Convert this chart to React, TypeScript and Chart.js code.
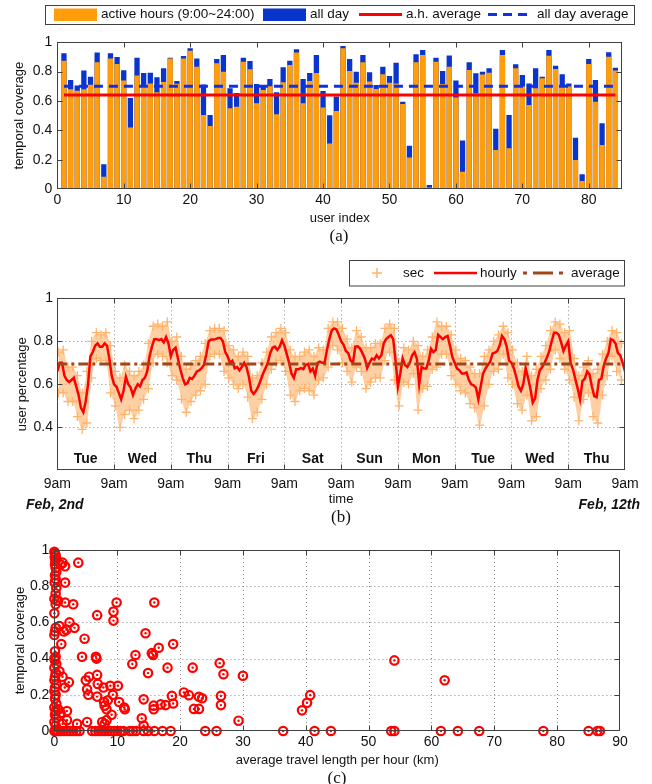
import { useEffect, useRef } from 'react';
import { Chart, registerables } from 'chart.js';
import type { ChartConfiguration, Plugin } from 'chart.js';

Chart.register(...registerables);

const FONT = '"Liberation Sans", Arial, Helvetica, sans-serif';
const SERIF = '"Liberation Serif", "Times New Roman", serif';
const INK = '#111111';
const AXIS = '#404040';

Chart.defaults.font.family = FONT;
Chart.defaults.color = INK;

// ---------- (a) temporal coverage per user ----------
const activeHours = [
  0.875, 0.68, 0.67, 0.68, 0.71, 0.864, 0.084, 0.89, 0.852, 0.74,
  0.42, 0.773, 0.70, 0.72, 0.66, 0.73, 0.89, 0.718, 0.89, 0.943,
  0.834, 0.505, 0.43, 0.857, 0.80, 0.55, 0.56, 0.868, 0.816, 0.584,
  0.675, 0.70, 0.51, 0.727, 0.845, 0.93, 0.584, 0.736, 0.79, 0.555,
  0.311, 0.532, 0.96, 0.805, 0.725, 0.864, 0.732, 0.682, 0.782, 0.725,
  0.72, 0.58, 0.214, 0.864, 0.914, 0.01, 0.868, 0.716, 0.834, 0.623,
  0.118, 0.811, 0.652, 0.78, 0.793, 0.266, 0.914, 0.277, 0.823, 0.698,
  0.573, 0.686, 0.755, 0.909, 0.818, 0.705, 0.698, 0.198, 0.055, 0.852,
  0.595, 0.30, 0.902, 0.807,
];
const allDay = [
  0.925, 0.743, 0.705, 0.807, 0.766, 0.93, 0.168, 0.925, 0.90, 0.81,
  0.62, 0.895, 0.79, 0.793, 0.761, 0.823, 0.895, 0.736, 0.907, 0.96,
  0.89, 0.713, 0.505, 0.886, 0.914, 0.686, 0.655, 0.895, 0.873, 0.716,
  0.70, 0.75, 0.66, 0.83, 0.875, 0.952, 0.75, 0.79, 0.914, 0.668,
  0.502, 0.63, 0.975, 0.886, 0.80, 0.914, 0.795, 0.709, 0.834, 0.77,
  0.861, 0.595, 0.295, 0.918, 0.948, 0.027, 0.895, 0.805, 0.91, 0.739,
  0.33, 0.864, 0.789, 0.80, 0.823, 0.41, 0.948, 0.505, 0.85, 0.777,
  0.72, 0.823, 0.766, 0.948, 0.841, 0.782, 0.72, 0.35, 0.10, 0.886,
  0.743, 0.448, 0.932, 0.827,
];
const userIndex = activeHours.map((_, i) => i + 1);
const activeAverage = 0.64;
const allDayAverage = 0.70;
const userTicks = [0, 10, 20, 30, 40, 50, 60, 70, 80];
const coverageTicks = [0, 0.2, 0.4, 0.6, 0.8, 1];

// ---------- (b) share of users online over ten days ----------
const hourlyUsers = [
  // Tue
  0.66, 0.70, 0.70, 0.64, 0.62, 0.61, 0.62, 0.63, 0.59, 0.55, 0.49, 0.47, 0.52, 0.60, 0.73, 0.75, 0.78, 0.79, 0.775, 0.775, 0.79, 0.78, 0.72, 0.64,
  // Wed
  0.60, 0.59, 0.56, 0.53, 0.57, 0.635, 0.60, 0.585, 0.55, 0.58, 0.60, 0.59, 0.62, 0.63, 0.66, 0.73, 0.775, 0.81, 0.81, 0.805, 0.81, 0.795, 0.82, 0.79,
  // Thu
  0.73, 0.76, 0.77, 0.72, 0.67, 0.63, 0.60, 0.605, 0.63, 0.625, 0.64, 0.66, 0.665, 0.675, 0.69, 0.74, 0.80, 0.808, 0.808, 0.81, 0.815, 0.815, 0.80, 0.75,
  // Fri
  0.73, 0.70, 0.71, 0.675, 0.68, 0.665, 0.68, 0.70, 0.68, 0.635, 0.57, 0.555, 0.57, 0.59, 0.62, 0.65, 0.675, 0.70, 0.745, 0.77, 0.775, 0.76, 0.775, 0.805,
  // Sat
  0.78, 0.74, 0.70, 0.65, 0.63, 0.67, 0.67, 0.675, 0.67, 0.69, 0.695, 0.66, 0.673, 0.64, 0.70, 0.705, 0.70, 0.70, 0.76, 0.81, 0.85, 0.86, 0.855, 0.83,
  // Sun
  0.80, 0.785, 0.755, 0.745, 0.71, 0.70, 0.775, 0.777, 0.766, 0.745, 0.72, 0.675, 0.70, 0.72, 0.715, 0.735, 0.72, 0.735, 0.79, 0.81, 0.82, 0.828, 0.81, 0.71,
  // Mon
  0.59, 0.65, 0.72, 0.69, 0.68, 0.70, 0.735, 0.75, 0.72, 0.60, 0.68, 0.673, 0.673, 0.71, 0.765, 0.75, 0.76, 0.83, 0.82, 0.81, 0.82, 0.825, 0.78, 0.727,
  // Tue
  0.70, 0.673, 0.665, 0.65, 0.65, 0.655, 0.62, 0.60, 0.595, 0.585, 0.53, 0.59, 0.65, 0.673, 0.69, 0.705, 0.743, 0.747, 0.755, 0.78, 0.825, 0.81, 0.775, 0.71,
  // Wed
  0.70, 0.675, 0.635, 0.59, 0.57, 0.60, 0.675, 0.63, 0.58, 0.515, 0.535, 0.62, 0.665, 0.68, 0.70, 0.725, 0.755, 0.80, 0.84, 0.84, 0.83, 0.795, 0.755, 0.78,
  // Thu
  0.80, 0.70, 0.67, 0.625, 0.58, 0.53, 0.615, 0.626, 0.66, 0.645, 0.59, 0.545, 0.54, 0.62, 0.626, 0.685, 0.72, 0.745, 0.81, 0.805, 0.79, 0.745, 0.735, 0.70,
  0.66,
];
// per-second samples: upper and lower extent of each two-hour block
const secHigh = [
  0.75, 0.76, 0.68, 0.68, 0.64, 0.56, 0.66, 0.80, 0.84, 0.83, 0.84, 0.78,
  0.66, 0.63, 0.69, 0.66, 0.64, 0.66, 0.69, 0.79, 0.87, 0.88, 0.87, 0.89,
  0.80, 0.82, 0.73, 0.67, 0.69, 0.71, 0.73, 0.79, 0.85, 0.86, 0.86, 0.85,
  0.78, 0.76, 0.73, 0.75, 0.73, 0.63, 0.64, 0.70, 0.75, 0.82, 0.84, 0.86,
  0.84, 0.76, 0.73, 0.73, 0.75, 0.76, 0.73, 0.77, 0.76, 0.86, 0.89, 0.89,
  0.86, 0.81, 0.77, 0.85, 0.82, 0.77, 0.77, 0.79, 0.79, 0.86, 0.88, 0.86,
  0.70, 0.77, 0.76, 0.80, 0.78, 0.73, 0.76, 0.82, 0.89, 0.87, 0.87, 0.83,
  0.76, 0.72, 0.71, 0.68, 0.65, 0.65, 0.73, 0.76, 0.80, 0.83, 0.87, 0.84,
  0.76, 0.70, 0.66, 0.73, 0.64, 0.67, 0.73, 0.78, 0.85, 0.89, 0.88, 0.84,
  0.85, 0.72, 0.64, 0.68, 0.71, 0.65, 0.67, 0.74, 0.80, 0.85, 0.84, 0.79,
];
const secLow = [
  0.56, 0.56, 0.52, 0.52, 0.45, 0.39, 0.42, 0.63, 0.72, 0.71, 0.71, 0.56,
  0.50, 0.40, 0.46, 0.48, 0.44, 0.48, 0.53, 0.58, 0.70, 0.74, 0.73, 0.70,
  0.64, 0.62, 0.53, 0.47, 0.52, 0.55, 0.57, 0.60, 0.73, 0.74, 0.74, 0.66,
  0.63, 0.60, 0.58, 0.60, 0.54, 0.44, 0.47, 0.53, 0.60, 0.67, 0.70, 0.71,
  0.66, 0.55, 0.52, 0.57, 0.58, 0.57, 0.55, 0.62, 0.63, 0.68, 0.78, 0.76,
  0.70, 0.66, 0.61, 0.68, 0.66, 0.58, 0.61, 0.63, 0.63, 0.71, 0.75, 0.62,
  0.50, 0.61, 0.60, 0.65, 0.48, 0.58, 0.59, 0.67, 0.68, 0.74, 0.74, 0.64,
  0.60, 0.57, 0.56, 0.51, 0.49, 0.41, 0.50, 0.60, 0.66, 0.67, 0.74, 0.63,
  0.60, 0.51, 0.48, 0.55, 0.43, 0.45, 0.58, 0.62, 0.67, 0.76, 0.72, 0.67,
  0.62, 0.54, 0.43, 0.53, 0.56, 0.45, 0.42, 0.55, 0.64, 0.73, 0.66, 0.62,
];
const usersAverage = 0.695;
const dayNames = ['Tue', 'Wed', 'Thu', 'Fri', 'Sat', 'Sun', 'Mon', 'Tue', 'Wed', 'Thu'];
const hourTicks = [0, 24, 48, 72, 96, 120, 144, 168, 192, 216, 240];
const hourTickLabel = '9am';
const startDate = 'Feb, 2nd';
const endDate = 'Feb, 12th';
const percentTicks = [0.4, 0.6, 0.8, 1];

// ---------- (c) travel length vs coverage: [km per hour, coverage] ----------
const travelCoverage: [number, number][] = [
  [0, 0.99], [0.1, 0.98], [0.2, 0.97], [0.05, 0.96], [0.3, 0.95], [0.15, 0.94], [0.1, 0.92], [0.2, 0.90],
  [0.3, 0.88], [0.1, 0.86], [0.2, 0.84], [0.05, 0.82], [0.3, 0.79], [0.2, 0.76], [0, 0.73], [0.4, 0.72],
  [0.2, 0.70], [0, 0.65], [0.2, 0.57], [0.1, 0.55], [0, 0.53], [0.1, 0.44], [0.2, 0.41], [0, 0.40],
  [0.1, 0.39], [0.3, 0.37], [0, 0.35], [0.2, 0.32], [0.1, 0.30], [0, 0.28], [0.3, 0.26], [0.1, 0.24],
  [0, 0.22], [0.2, 0.20], [0.1, 0.18], [0.3, 0.15], [0, 0.13], [0.2, 0.11], [0.1, 0.09], [0.3, 0.07],
  [0, 0.05], [0.2, 0.03],
  [1.0, 0.92], [1.3, 0.93], [1.7, 0.91], [3.8, 0.93], [1.7, 0.82], [0.6, 0.72], [1.7, 0.71], [3.0, 0.70],
  [6.8, 0.64], [9.4, 0.66], [9.9, 0.71], [9.4, 0.61], [15.9, 0.71], [2.4, 0.60], [3.2, 0.57], [1.9, 0.56],
  [0.8, 0.58], [1.5, 0.55], [1.1, 0.48], [4.8, 0.51], [14.5, 0.54], [16.6, 0.46], [18.9, 0.48], [15.5, 0.43],
  [15.7, 0.42], [12.9, 0.42], [4.4, 0.41], [6.6, 0.41], [6.7, 0.40], [12.4, 0.37], [14.9, 0.32], [18.0, 0.35],
  [22.0, 0.35], [26.3, 0.375], [26.9, 0.314], [30.0, 0.305], [54.1, 0.39], [62.1, 0.28],
  [1.65, 0.24], [2.3, 0.27], [1.3, 0.30], [0.8, 0.33], [5.0, 0.28], [5.5, 0.30], [6.8, 0.31], [5.2, 0.23],
  [5.4, 0.20], [6.9, 0.26], [6.8, 0.19], [7.8, 0.24], [7.9, 0.16], [8.0, 0.14], [8.3, 0.12], [8.9, 0.25],
  [9.3, 0.20], [9.1, 0.09], [10.1, 0.25], [10.3, 0.16], [11.1, 0.13], [11.2, 0.12], [8.5, 0.17], [7.6, 0.05],
  [8.0, 0.04], [8.3, 0.06], [5.2, 0.05], [3.6, 0.04], [2.0, 0.11], [2.0, 0.06], [1.3, 0.04], [0.6, 0.12],
  [1.0, 0.10], [14.2, 0.175], [15.8, 0.14], [15.8, 0.12], [16.9, 0.147], [17.7, 0.143], [18.7, 0.194], [18.9, 0.152],
  [13.9, 0.07], [14.2, 0.03], [20.6, 0.213], [21.4, 0.198], [23.0, 0.189], [23.5, 0.181], [22.2, 0.122], [23.0, 0.122],
  [26.5, 0.194], [26.5, 0.143], [29.3, 0.057], [39.4, 0.114], [40.2, 0.156], [40.7, 0.198],
  [0, 0], [0.3, 0], [0.6, 0], [1, 0], [1.5, 0], [2, 0], [2.5, 0], [3, 0], [3.5, 0], [4, 0],
  [6, 0], [6.5, 0], [7, 0], [7.5, 0], [8, 0], [8.5, 0], [9, 0], [9.5, 0], [10, 0], [10.5, 0],
  [11, 0], [12, 0], [12.5, 0], [13, 0], [14.2, 0], [14.9, 0], [15.9, 0], [17.2, 0], [18.5, 0], [24, 0],
  [25.8, 0], [36.4, 0], [41.4, 0], [44, 0], [53.6, 0], [54.1, 0], [61.5, 0], [64.2, 0], [67.6, 0], [77.8, 0],
  [85, 0], [86.4, 0], [86.8, 0],
];
const kmTicks = [0, 10, 20, 30, 40, 50, 60, 70, 80, 90];

// ---------- colours ----------
const ORANGE = '#FF9D0A';
const BLUE = '#0A35CC';
const DASH_BLUE = '#1030E8';
const RED = '#FF0000';
const SEC = '#FFB46C';
const SEC_FILL = 'rgba(253, 178, 105, 0.62)';
const BROWN = '#A0461A';

// ---------- shared helpers ----------
type Swatch = {
  kind: 'rect' | 'line' | 'cross';
  color: string;
  x0: number;
  x1: number;
  width?: number;
  dash?: number[];
  label: string;
  textX: number;
};
type LegendSpec = {
  left: number; top: number; right: number; bottom: number;
  textY: number; patchTop: number; patchBottom: number;
  items: Swatch[];
};

function boxedLegend(spec: LegendSpec): Plugin {
  return {
    id: 'boxedLegend',
    afterDraw(chart) {
      const ctx = chart.ctx;
      ctx.save();
      ctx.fillStyle = '#ffffff';
      ctx.fillRect(spec.left, spec.top, spec.right - spec.left, spec.bottom - spec.top);
      ctx.strokeStyle = AXIS;
      ctx.lineWidth = 1;
      ctx.strokeRect(spec.left + 0.5, spec.top + 0.5, spec.right - spec.left, spec.bottom - spec.top);
      for (const it of spec.items) {
        if (it.kind === 'rect') {
          ctx.fillStyle = it.color;
          ctx.fillRect(it.x0, spec.patchTop, it.x1 - it.x0, spec.patchBottom - spec.patchTop);
        } else if (it.kind === 'line') {
          ctx.strokeStyle = it.color;
          ctx.lineWidth = it.width ?? 2;
          ctx.setLineDash(it.dash ?? []);
          ctx.beginPath();
          ctx.moveTo(it.x0, spec.textY);
          ctx.lineTo(it.x1, spec.textY);
          ctx.stroke();
          ctx.setLineDash([]);
        } else {
          const cx = (it.x0 + it.x1) / 2;
          const r = (it.x1 - it.x0) / 2;
          ctx.strokeStyle = it.color;
          ctx.lineWidth = it.width ?? 1.5;
          ctx.beginPath();
          ctx.moveTo(cx - r, spec.textY);
          ctx.lineTo(cx + r, spec.textY);
          ctx.moveTo(cx, spec.textY - r);
          ctx.lineTo(cx, spec.textY + r);
          ctx.stroke();
        }
        ctx.fillStyle = INK;
        ctx.font = `13.5px ${FONT}`;
        ctx.textAlign = 'left';
        ctx.textBaseline = 'middle';
        ctx.fillText(it.label, it.textX, spec.textY);
      }
      ctx.restore();
    },
  };
}

// boxed axes with inward tick marks and an optional dotted grid
function framedAxes(withGrid: boolean): Plugin {
  return {
    id: 'framedAxes',
    beforeDraw(chart) {
      if (!withGrid) return;
      const { ctx, chartArea: a } = chart;
      const xs = chart.scales.x;
      const ys = chart.scales.y;
      ctx.save();
      ctx.strokeStyle = '#8a8a8a';
      ctx.lineWidth = 1;
      ctx.setLineDash([1, 3]);
      ctx.beginPath();
      for (const t of xs.ticks) {
        const p = Math.round(xs.getPixelForValue(t.value)) + 0.5;
        if (p <= a.left + 1.5 || p >= a.right - 1.5) continue;
        ctx.moveTo(p, a.top);
        ctx.lineTo(p, a.bottom);
      }
      for (const t of ys.ticks) {
        const p = Math.round(ys.getPixelForValue(t.value)) + 0.5;
        if (p <= a.top + 1.5 || p >= a.bottom - 1.5) continue;
        ctx.moveTo(a.left, p);
        ctx.lineTo(a.right, p);
      }
      ctx.stroke();
      ctx.restore();
    },
    afterDatasetsDraw(chart) {
      const { ctx, chartArea: a } = chart;
      const xs = chart.scales.x;
      const ys = chart.scales.y;
      const L = Math.round(a.left) + 0.5;
      const R = Math.round(a.right) - 0.5;
      const T = Math.round(a.top) + 0.5;
      const B = Math.round(a.bottom) - 0.5;
      const len = 5;
      ctx.save();
      ctx.strokeStyle = AXIS;
      ctx.lineWidth = 1;
      ctx.strokeRect(L, T, R - L, B - T);
      ctx.beginPath();
      for (const t of xs.ticks) {
        const p = Math.round(xs.getPixelForValue(t.value)) + 0.5;
        if (p <= L + 1 || p >= R - 1) continue;
        ctx.moveTo(p, B);
        ctx.lineTo(p, B - len);
        ctx.moveTo(p, T);
        ctx.lineTo(p, T + len);
      }
      for (const t of ys.ticks) {
        const p = Math.round(ys.getPixelForValue(t.value)) + 0.5;
        if (p <= T + 1 || p >= B - 1) continue;
        ctx.moveTo(L, p);
        ctx.lineTo(L + len, p);
        ctx.moveTo(R, p);
        ctx.lineTo(R - len, p);
      }
      ctx.stroke();
      ctx.restore();
    },
  };
}

type AxisSpec = {
  min: number; max: number; ticks: number[]; label: (v: number) => string;
  title: string; tickPad: number; titlePad: number; size: number;
};

function xAxis(s: AxisSpec) {
  return {
    type: 'linear' as const,
    min: s.min,
    max: s.max,
    offset: false,
    afterBuildTicks: (sc: any) => { sc.ticks = s.ticks.map((value) => ({ value })); },
    afterFit: (sc: any) => { sc.height = s.size; },
    grid: { display: false, drawTicks: false },
    border: { display: false },
    ticks: {
      padding: s.tickPad, autoSkip: false, maxRotation: 0, minRotation: 0,
      font: { size: 14 }, color: INK,
      callback: (v: any) => s.label(Number(v)),
    },
    title: { display: true, text: s.title, font: { size: 13 }, color: INK, padding: { top: 0, bottom: s.titlePad } },
  };
}

function yAxis(s: AxisSpec) {
  return {
    type: 'linear' as const,
    min: s.min,
    max: s.max,
    afterBuildTicks: (sc: any) => { sc.ticks = s.ticks.map((value) => ({ value })); },
    afterFit: (sc: any) => { sc.width = s.size; },
    grid: { display: false, drawTicks: false },
    border: { display: false },
    ticks: { padding: s.tickPad, autoSkip: false, font: { size: 14 }, color: INK, callback: (v: any) => s.label(Number(v)) },
    title: { display: true, text: s.title, font: { size: 13 }, color: INK, padding: { top: s.titlePad, bottom: 0 } },
  };
}

const baseOptions = {
  responsive: false,
  animation: false as const,
  devicePixelRatio: 1,
  events: [] as any[],
};

// ---------- (a) ----------
function coverageConfig(): ChartConfiguration {
  const first = userIndex[0];
  const last = userIndex[userIndex.length - 1];
  return {
    type: 'bar',
    data: {
      datasets: [
        {
          type: 'line', label: 'a.h. average',
          data: [{ x: first, y: activeAverage }, { x: last, y: activeAverage }],
          borderColor: RED, borderWidth: 3, pointRadius: 0, order: 0,
        },
        {
          type: 'line', label: 'all day average',
          data: [{ x: first, y: allDayAverage }, { x: last, y: allDayAverage }],
          borderColor: DASH_BLUE, borderWidth: 3, borderDash: [9, 6], pointRadius: 0, order: 0,
        },
        {
          type: 'bar', label: 'active hours (9:00~24:00)',
          data: userIndex.map((u, i) => ({ x: u, y: activeHours[i] })),
          backgroundColor: ORANGE, grouped: false, barPercentage: 0.8, categoryPercentage: 1, order: 1,
        },
        {
          type: 'bar', label: 'all day',
          data: userIndex.map((u, i) => ({ x: u, y: allDay[i] })),
          backgroundColor: BLUE, grouped: false, barPercentage: 0.8, categoryPercentage: 1, order: 2,
        },
      ] as any,
    },
    options: {
      ...baseOptions,
      layout: { padding: { left: 0, right: 30, top: 42.3, bottom: 0 }, autoPadding: false },
      plugins: { legend: { display: false }, tooltip: { enabled: false } },
      scales: {
        x: xAxis({ min: 0, max: 85, ticks: userTicks, label: (v) => String(v), title: 'user index', tickPad: 3, titlePad: 2, size: 39 }),
        y: yAxis({ min: 0, max: 1, ticks: coverageTicks, label: (v) => String(v), title: 'temporal coverage', tickPad: 5, titlePad: 12, size: 57.3 }),
      } as any,
    },
    plugins: [
      framedAxes(false),
      boxedLegend({
        left: 45, top: 5, right: 634, bottom: 24, textY: 14.5, patchTop: 8.5, patchBottom: 21,
        items: [
          { kind: 'rect', color: ORANGE, x0: 54, x1: 97, textX: 101, label: 'active hours (9:00~24:00)' },
          { kind: 'rect', color: BLUE, x0: 263, x1: 306, textX: 310, label: 'all day' },
          { kind: 'line', color: RED, width: 3, x0: 359, x1: 402, textX: 406, label: 'a.h. average' },
          { kind: 'line', color: DASH_BLUE, width: 3, dash: [9, 6], x0: 488, x1: 532, textX: 537, label: 'all day average' },
        ],
      }),
    ],
  };
}

// ---------- (b) ----------
const dayLabels: Plugin = {
  id: 'dayLabels',
  afterDatasetsDraw(chart) {
    const { ctx } = chart;
    const xs = chart.scales.x;
    const ys = chart.scales.y;
    ctx.save();
    ctx.fillStyle = INK;
    ctx.font = `bold 14px ${FONT}`;
    ctx.textAlign = 'center';
    ctx.textBaseline = 'middle';
    const y = ys.getPixelForValue(0.25);
    dayNames.forEach((name, d) => {
      ctx.fillText(name, xs.getPixelForValue(hourTicks[d] + 12), y);
    });
    ctx.font = `italic bold 14px ${FONT}`;
    ctx.textAlign = 'left';
    ctx.fillText(startDate, 26, 255);
    ctx.textAlign = 'right';
    ctx.fillText(endDate, 640, 255);
    ctx.restore();
  },
};

function timeConfig(): ChartConfiguration {
  const crossPoints = { pointStyle: 'cross', pointRadius: 4.5, pointBorderColor: SEC, pointBorderWidth: 1.3, pointBackgroundColor: SEC };
  return {
    type: 'line',
    data: {
      datasets: [
        {
          label: 'average',
          data: [{ x: 0, y: usersAverage }, { x: 240, y: usersAverage }],
          borderColor: BROWN, borderWidth: 3, borderDash: [10, 4, 3, 4], pointRadius: 0, order: 0,
        },
        {
          label: 'hourly',
          data: hourlyUsers.map((v, h) => ({ x: h, y: v })),
          borderColor: RED, borderWidth: 2.5, pointRadius: 0, order: 1, tension: 0,
        },
        {
          label: 'sec',
          data: secHigh.map((v, k) => ({ x: 2 * k + 0.5, y: v })),
          borderWidth: 0, fill: '+1', backgroundColor: SEC_FILL, tension: 0.3, order: 2,
          ...crossPoints,
        },
        {
          label: 'sec (low)',
          data: secLow.map((v, k) => ({ x: 2 * k + 0.5, y: v })),
          borderWidth: 0, fill: false, tension: 0.3, order: 3,
          ...crossPoints,
        },
      ] as any,
    },
    options: {
      ...baseOptions,
      layout: { padding: { left: 0, right: 27, top: 48.3, bottom: 0 }, autoPadding: false },
      plugins: {
        legend: { display: false },
        tooltip: { enabled: false },
        filler: { drawTime: 'beforeDatasetsDraw' },
      } as any,
      scales: {
        x: xAxis({ min: 0, max: 240, ticks: hourTicks, label: () => hourTickLabel, title: 'time', tickPad: 5, titlePad: 12.6, size: 49.7 }),
        y: yAxis({ min: 0.2, max: 1, ticks: percentTicks, label: (v) => String(v), title: 'user percentage', tickPad: 4.3, titlePad: 14.2, size: 57.3 }),
      } as any,
    },
    plugins: [
      framedAxes(true),
      dayLabels,
      boxedLegend({
        left: 349, top: 10, right: 624, bottom: 35.5, textY: 23, patchTop: 17, patchBottom: 29,
        items: [
          { kind: 'cross', color: SEC, width: 1.5, x0: 372, x1: 382, textX: 403, label: 'sec' },
          { kind: 'line', color: RED, width: 2.5, x0: 434, x1: 477, textX: 480, label: 'hourly' },
          { kind: 'line', color: BROWN, width: 3, dash: [4, 6, 20, 6], x0: 523, x1: 567, textX: 571, label: 'average' },
        ],
      }),
    ],
  };
}

// ---------- (c) ----------
function travelConfig(): ChartConfiguration {
  const pts = travelCoverage.map(([x, y]) => ({ x, y }));
  return {
    type: 'scatter',
    data: {
      datasets: [
        {
          label: 'users', data: pts, pointStyle: 'circle', pointRadius: 4.2,
          pointBorderWidth: 2.2, pointBorderColor: RED, pointBackgroundColor: 'rgba(0,0,0,0)',
          clip: false, order: 1,
        },
        {
          label: 'users (centre)', data: pts, pointStyle: 'circle', pointRadius: 1.2,
          pointBorderWidth: 0, pointBackgroundColor: RED, clip: false, order: 0,
        },
      ] as any,
    },
    options: {
      ...baseOptions,
      layout: { padding: { left: 0, right: 32, top: 20, bottom: 0 }, autoPadding: false },
      plugins: { legend: { display: false }, tooltip: { enabled: false } },
      scales: {
        x: xAxis({ min: 0, max: 90, ticks: kmTicks, label: (v) => String(v), title: 'average travel length per hour (km)', tickPad: 3.1, titlePad: 16.2, size: 53 }),
        y: yAxis({ min: 0, max: 1, ticks: coverageTicks, label: (v) => String(v), title: 'temporal coverage', tickPad: 5, titlePad: 12.2, size: 54.4 }),
      } as any,
    },
    plugins: [framedAxes(true)],
  };
}

function Caption({ text, x, y }: { text: string; x: number; y: number }) {
  return (
    <div
      style={{
        position: 'absolute', left: x - 40, top: y - 11, width: 80, height: 22,
        textAlign: 'center', font: `17px ${SERIF}`, lineHeight: '22px', color: INK,
      }}
    >
      {text}
    </div>
  );
}

export default function App() {
  const aRef = useRef<HTMLCanvasElement>(null);
  const bRef = useRef<HTMLCanvasElement>(null);
  const cRef = useRef<HTMLCanvasElement>(null);

  useEffect(() => {
    const charts = [
      new Chart(aRef.current!, coverageConfig()),
      new Chart(bRef.current!, timeConfig()),
      new Chart(cRef.current!, travelConfig()),
    ];
    return () => charts.forEach((c) => c.destroy());
  }, []);

  return (
    <div style={{ position: 'absolute', left: 0, top: 0, width: 652, height: 784, background: '#ffffff', overflow: 'hidden' }}>
      <canvas ref={aRef} width={652} height={228} style={{ position: 'absolute', left: 0, top: 0 }} />
      <canvas ref={bRef} width={652} height={270} style={{ position: 'absolute', left: 0, top: 250 }} />
      <canvas ref={cRef} width={652} height={254} style={{ position: 'absolute', left: 0, top: 530 }} />
      <Caption text="(a)" x={339} y={236} />
      <Caption text="(b)" x={341} y={517} />
      <Caption text="(c)" x={337} y={778} />
    </div>
  );
}
